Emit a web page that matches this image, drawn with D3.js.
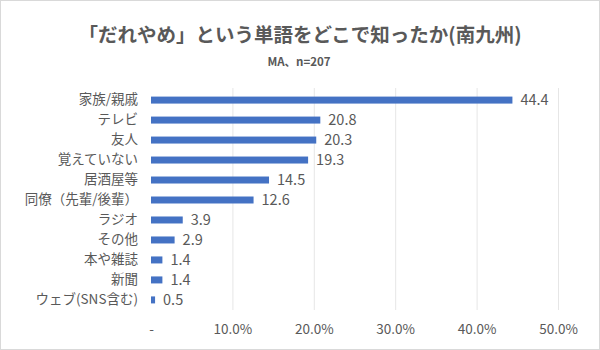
<!DOCTYPE html>
<html><head><meta charset="utf-8">
<script src="https://cdn.jsdelivr.net/npm/d3@7"></script>
<style>body{margin:0;background:#fff}svg{display:block}text{font-family:"Noto Sans CJK JP","Noto Sans",sans-serif}</style>
</head><body><svg id="c" width="600" height="350"></svg>
<script>
const categories = ["家族/親戚","テレビ","友人","覚えていない","居酒屋等","同僚（先輩/後輩）","ラジオ","その他","本や雑誌","新聞","ウェブ(SNS含む)"];
const values = [44.4,20.8,20.3,19.3,14.5,12.6,3.9,2.9,1.4,1.4,0.5];
const tickValues = [0,10,20,30,40,50];
const tickLabels = ["-","10.0%","20.0%","30.0%","40.0%","50.0%"];
const title = "「だれやめ」という単語をどこで知ったか(南九州)";
const subtitle = "MA、n=207";

const svg = d3.select("#c");
svg.append("rect").attr("x",0.5).attr("y",0.5).attr("width",599).attr("height",349).attr("fill","#fff").attr("stroke","#d9d9d9");
const x = d3.scaleLinear().domain([0,50]).range([151,558]);
const y = d3.scaleBand().domain(categories).range([90,310]).paddingInner(0.65).paddingOuter(0.33);
const grey = "#595959";
svg.append("text").attr("x",300).attr("y",42).attr("text-anchor","middle").attr("font-size",19.5).attr("font-weight","bold").attr("fill",grey).text(title);
svg.append("text").attr("x",299).attr("y",66).attr("text-anchor","middle").attr("font-size",11.5).attr("font-weight","bold").attr("fill",grey).text(subtitle);
const xAxis = d3.axisBottom(x).tickValues(tickValues).tickFormat((d,i)=>tickLabels[i]).tickSize(-(310-88)).tickPadding(14);
const gx = svg.append("g").attr("transform","translate(0,310)").call(xAxis);
gx.select(".domain").remove();
gx.selectAll(".tick line").attr("stroke","#e6e6e6").filter(d=>d===0).remove();
gx.selectAll(".tick text").attr("fill",grey).attr("font-size",13.5).attr("font-family","'Noto Sans','DejaVu Sans',sans-serif");
svg.append("g").selectAll("rect").data(values).join("rect")
  .attr("x",x(0)).attr("y",(d,i)=>y(categories[i])).attr("width",d=>x(d)-x(0)).attr("height",y.bandwidth()).attr("fill","#4472C4");
svg.append("g").selectAll("text").data(values).join("text")
  .attr("x",d=>x(d)+8).attr("y",(d,i)=>y(categories[i])+y.bandwidth()/2).attr("dy","0.36em")
  .attr("font-size",14.5).attr("fill",grey).attr("font-family","'Noto Sans','DejaVu Sans',sans-serif").text(d=>d.toFixed(1));
const gy = svg.append("g").attr("transform","translate(138,0)").call(d3.axisLeft(y).tickSize(0).tickPadding(0));
gy.select(".domain").remove();
gy.selectAll(".tick text").attr("fill",grey).attr("font-size",13.5);
</script></body></html>
